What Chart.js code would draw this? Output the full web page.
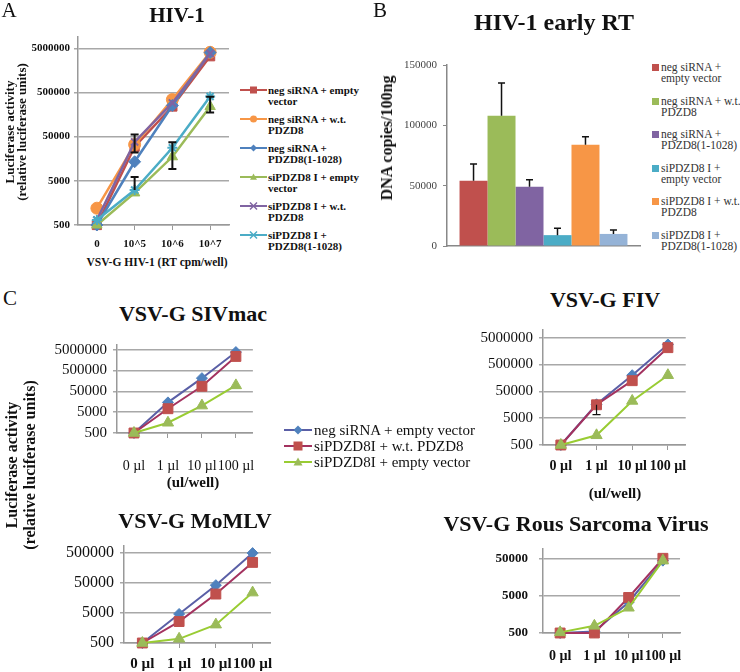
<!DOCTYPE html>
<html>
<head>
<meta charset="utf-8">
<script src="https://cdn.jsdelivr.net/npm/chart.js@4.4.0/dist/chart.umd.min.js"></script>
<style>
body { margin: 0; background: #fff; }
#fig { position: relative; width: 740px; height: 672px; overflow: hidden; font-family: "Liberation Serif", "Times New Roman", Times, "DejaVu Serif", serif; color: #111; }
#fig canvas { position: absolute; }
.t { position: absolute; white-space: nowrap; line-height: 1; transform: translate(-50%, -50%); }
.b { font-weight: bold; }
.rot { position: absolute; white-space: nowrap; text-align: center; font-weight: bold; transform: translate(-50%, -50%) rotate(-90deg); }
.leg { position: absolute; }
.leg .it { position: absolute; left: 0; white-space: nowrap; }
</style>
</head>
<body>
<div id="fig">
  <canvas id="cA" width="235" height="255" style="left:0;top:0;width:235px;height:255px"></canvas>
  <canvas id="cB" width="270" height="260" style="left:380px;top:0;width:270px;height:260px"></canvas>
  <canvas id="cSIV" width="245" height="150" style="left:30px;top:330px;width:245px;height:150px"></canvas>
  <canvas id="cFIV" width="255" height="175" style="left:440px;top:315px;width:255px;height:175px"></canvas>
  <canvas id="cMLV" width="250" height="142" style="left:30px;top:530px;width:250px;height:142px"></canvas>
  <canvas id="cRSV" width="252" height="142" style="left:440px;top:530px;width:252px;height:142px"></canvas>

  <div class="t" style="left:9px;top:10px;font-size:21px">A</div>
  <div class="t" style="left:380px;top:10px;font-size:21px">B</div>
  <div class="t" style="left:10px;top:298px;font-size:21px">C</div>

  <div class="t b" style="left:177px;top:15px;font-size:21px">HIV-1</div>
  <div class="t b" style="left:554px;top:22px;font-size:24px">HIV-1 early RT</div>
  <div class="rot" style="left:16px;top:132px;font-size:13px;line-height:12px">Luciferase activity<br>(relative luciferase units)</div>
  <div class="t b" style="left:157px;top:263px;font-size:11.5px">VSV-G HIV-1 (RT cpm/well)</div>
  <div class="rot" style="left:387px;top:138px;font-size:16px;line-height:16px">DNA copies/100ng</div>

  <div class="t b" style="left:193px;top:314px;font-size:22px">VSV-G SIVmac</div>
  <div class="t b" style="left:605px;top:300px;font-size:22px">VSV-G FIV</div>
  <div class="t b" style="left:195px;top:521px;font-size:22px">VSV-G MoMLV</div>
  <div class="t b" style="left:576px;top:524px;font-size:22px">VSV-G Rous Sarcoma Virus</div>
  <div class="t b" style="left:193px;top:482px;font-size:15px">(ul/well)</div>
  <div class="t b" style="left:615px;top:493px;font-size:15px">(ul/well)</div>
  <div class="rot" style="left:21px;top:465px;font-size:16px;line-height:18px">Luciferase activity<br>(relative luciferase units)</div>

  <div id="legA" class="leg" style="left:240px;top:0"></div>
  <div id="legB" class="leg" style="left:652px;top:0"></div>
  <div id="legC" class="leg" style="left:284px;top:0"></div>
</div>
<script>
// ---- panel A: HIV-1 luciferase (log scale) ----
var hivDoses = ['0', '10^5', '10^6', '10^7'];
var hivNames = ['neg siRNA + empty\nvector', 'neg siRNA + w.t.\nPDZD8', 'neg siRNA +\nPDZD8(1-1028)',
                'siPDZD8 I + empty\nvector', 'siPDZD8 I + w.t.\nPDZD8', 'siPDZD8 I +\nPDZD8(1-1028)'];
var hivNegEmpty = [500, 29500, 240000, 3300000];
var hivNegWt = [1200, 33000, 345000, 4050000];
var hivNegTrunc = [500, 13500, 254000, 4000000];
var hivSiEmpty = [500, 2660, 17500, 240000];
var hivSiWt = [650, 38000, 290000, 3800000];
var hivSiTrunc = [650, 3100, 28000, 405000];
var hivSiWtErrHi = [0, 18000, 0, 0];
var hivSiWtErrLo = [0, 16000, 0, 0];
var hivSiEmptyErrHi = [0, 0, 19700, 160000];
var hivSiEmptyErrLo = [0, 0, 8300, 65000];
var hivSiTruncErrHi = [0, 3000, 0, 0];
var hivTicks = [500, 5000, 50000, 500000, 5000000];

// ---- panel B: early RT bars ----
var rtNames = ['neg siRNA +\nempty vector', 'neg siRNA + w.t.\nPDZD8', 'neg siRNA +\nPDZD8(1-1028)',
               'siPDZD8 I +\nempty vector', 'siPDZD8 I + w.t.\nPDZD8', 'siPDZD8 I +\nPDZD8(1-1028)'];
var rtValues = [54000, 108000, 49000, 9000, 84000, 10000];
var rtErr = [14000, 27000, 6000, 5800, 6500, 3300];

// ---- panel C: other viruses ----
var volLabels = ['0 µl', '1 µl', '10 µl', '100 µl'];
var cNames = ['neg siRNA + empty vector', 'siPDZD8I + w.t. PDZD8', 'siPDZD8I + empty vector'];
var sivNeg = [500, 14700, 213000, 3800000];
var sivSiWt = [500, 7300, 87000, 2350000];
var sivSiEmpty = [500, 1550, 10300, 96000];
var fivNeg = [500, 16500, 200000, 2800000];
var fivSiWt = [500, 15800, 125000, 2130000];
var fivSiEmpty = [500, 1150, 22000, 200000];
var fivSiWtErrLo = [0, 9000, 0, 0];
var mlvNeg = [500, 4650, 42500, 500000];
var mlvSiWt = [500, 2600, 21500, 245000];
var mlvSiEmpty = [500, 690, 2050, 24000];
var rsvNeg = [500, 550, 3400, 45000];
var rsvSiWt = [500, 500, 4550, 52000];
var rsvSiEmpty = [520, 780, 2400, 45000];
var bigTicks = [500, 5000, 50000, 500000, 5000000];
var mlvTicks = [500, 5000, 50000, 500000];
var rsvTicks = [500, 5000, 50000];

Chart.defaults.font.family = '"Liberation Serif", "Times New Roman", Times, "DejaVu Serif", serif';
Chart.defaults.color = '#111';

// black error bars, drawn from errHi / errLo arrays on the dataset
var errorBars = {
    id: 'errorBars',
    afterDatasetsDraw: function (chart) {
        var ctx = chart.ctx;
        var yScale = chart.scales.y;
        chart.data.datasets.forEach(function (ds, di) {
            if (!ds.errHi && !ds.errLo) return;
            var meta = chart.getDatasetMeta(di);
            meta.data.forEach(function (el, i) {
                var v = ds.data[i];
                var hi = ds.errHi ? ds.errHi[i] : 0;
                var lo = ds.errLo ? ds.errLo[i] : 0;
                if (!hi && !lo) return;
                var cap = ds.errCap || 4;
                var top = hi ? yScale.getPixelForValue(v + hi) : el.y;
                var bot = lo ? yScale.getPixelForValue(v - lo) : el.y;
                ctx.save();
                ctx.strokeStyle = '#111';
                ctx.lineWidth = ds.errWidth || 2;
                ctx.beginPath();
                ctx.moveTo(el.x, top); ctx.lineTo(el.x, bot);
                if (hi) { ctx.moveTo(el.x - cap, top); ctx.lineTo(el.x + cap, top); }
                if (lo) { ctx.moveTo(el.x - cap, bot); ctx.lineTo(el.x + cap, bot); }
                ctx.stroke();
                ctx.restore();
            });
        });
    }
};

function series(name, data, line, fill, style, radius, width, idx) {
    var open = (style === 'crossRot' || style === 'star');
    return {
        label: name.replace('\n', ' '), data: data,
        borderColor: line, backgroundColor: fill, borderWidth: width,
        pointStyle: style, pointRadius: radius,
        pointBackgroundColor: fill, pointBorderColor: open ? line : fill,
        pointBorderWidth: open ? 2 : 1,
        tension: 0, clip: false, order: -idx
    };
}

function logLine(id, o) {
    return new Chart(document.getElementById(id), {
        type: 'line',
        data: { labels: o.labels, datasets: o.datasets },
        options: {
            responsive: false, animation: false, devicePixelRatio: 1,
            layout: { autoPadding: false, padding: { top: o.top, right: o.right, left: 0, bottom: 0 } },
            plugins: { legend: { display: false }, tooltip: { enabled: false } },
            scales: {
                x: {
                    offset: true,
                    grid: { drawOnChartArea: false, tickLength: 5, color: '#999' },
                    border: { color: '#999', width: 1.5 },
                    ticks: { font: o.xFont, color: '#111', padding: o.xPad, maxRotation: 0, autoSkip: false },
                    afterFit: function (s) { s.height = o.xH; }
                },
                y: {
                    type: 'logarithmic', min: 500, max: o.max,
                    afterBuildTicks: function (s) {
                        s.ticks = o.ticks.map(function (v) { return { value: v }; });
                    },
                    grid: { color: '#a8a8a8', lineWidth: 1.5, tickLength: 4 },
                    border: { color: '#999', width: 1.5 },
                    ticks: { font: o.yFont, color: '#111', padding: o.yPad, callback: function (v) { return String(v); } },
                    afterFit: function (s) { s.width = o.yW; }
                }
            }
        },
        plugins: [errorBars]
    });
}

// ---- A ----
var hivColors = ['#C0504D', '#F79646', '#4F81BD', '#9BBB59', '#8064A2', '#4BACC6'];
var hivStyles = ['rect', 'circle', 'rectRot', 'triangle', 'crossRot', 'star'];
var hivRadius = [6.5, 6, 6, 6, 5, 5];
var hivData = [hivNegEmpty, hivNegWt, hivNegTrunc, hivSiEmpty, hivSiWt, hivSiTrunc];
var hivSets = hivData.map(function (d, i) {
    return series(hivNames[i], d, hivColors[i], hivColors[i], hivStyles[i], hivRadius[i], 2.5, i);
});
hivSets[3].errHi = hivSiEmptyErrHi; hivSets[3].errLo = hivSiEmptyErrLo;
hivSets[4].errHi = hivSiWtErrHi; hivSets[4].errLo = hivSiWtErrLo;
hivSets[5].errHi = hivSiTruncErrHi;

logLine('cA', {
    labels: hivDoses, datasets: hivSets, max: 9e6, ticks: hivTicks,
    top: 37, right: 6, yW: 78, xH: 30, xPad: 8, yPad: 4,
    xFont: { size: 11, weight: 'bold' }, yFont: { size: 11, weight: 'bold' }
});

// ---- B ----
var rtColors = ['#C0504D', '#9BBB59', '#8064A2', '#4BACC6', '#F79646', '#95B3D7'];
new Chart(document.getElementById('cB'), {
    type: 'bar',
    data: {
        labels: [''],
        datasets: rtValues.map(function (v, i) {
            return {
                label: rtNames[i].replace('\n', ' '), data: [v], errHi: [rtErr[i]],
                errCap: 3.5, errWidth: 1.5,
                backgroundColor: rtColors[i], categoryPercentage: 0.87, barPercentage: 1
            };
        })
    },
    options: {
        responsive: false, animation: false, devicePixelRatio: 1,
        layout: { autoPadding: false, padding: { top: 65, right: 10, left: 0, bottom: 0 } },
        plugins: { legend: { display: false }, tooltip: { enabled: false } },
        scales: {
            x: {
                grid: { display: false }, ticks: { display: false },
                border: { color: '#888', width: 1.5 },
                afterFit: function (s) { s.height = 14; }
            },
            y: {
                min: 0, max: 150000,
                grid: { drawOnChartArea: false, tickLength: 4, color: '#888' },
                border: { color: '#888', width: 1.5 },
                ticks: { stepSize: 50000, font: { size: 11 }, color: '#444', padding: 6,
                         callback: function (v) { return String(v); } },
                afterFit: function (s) { s.width = 67; }
            }
        }
    },
    plugins: [errorBars]
});

// ---- C ----
var cLine = ['#5A5FA6', '#A3325F', '#99CC33'];
var cFill = ['#4F81BD', '#C0504D', '#9BBB59'];
var cStyles = ['rectRot', 'rect', 'triangle'];
var cRadius = [5.5, 7, 6.5];
function cSets(list) {
    return list.map(function (d, i) {
        return series(cNames[i], d, cLine[i], cFill[i], cStyles[i], cRadius[i], 2, i);
    });
}

logLine('cSIV', {
    labels: volLabels, datasets: cSets([sivNeg, sivSiWt, sivSiEmpty]), max: 8.3e6, ticks: bigTicks,
    top: 8, right: 7, yW: 87, xH: 47, xPad: 20, yPad: 6,
    xFont: { size: 14 }, yFont: { size: 15 }
});

var fivSets = cSets([fivNeg, fivSiWt, fivSiEmpty]);
fivSets[1].errLo = fivSiWtErrLo; fivSets[1].errWidth = 1.2;
logLine('cFIV', {
    labels: volLabels, datasets: fivSets, max: 9.7e6, ticks: bigTicks,
    top: 10, right: 7, yW: 103, xH: 45, xPad: 8, yPad: 6,
    xFont: { size: 14, weight: 'bold' }, yFont: { size: 15 }
});

logLine('cMLV', {
    labels: volLabels, datasets: cSets([mlvNeg, mlvSiWt, mlvSiEmpty]), max: 8.9e5, ticks: mlvTicks,
    top: 10, right: 7, yW: 94, xH: 29, xPad: 7, yPad: 6,
    xFont: { size: 15, weight: 'bold' }, yFont: { size: 16 }
});

logLine('cRSV', {
    labels: volLabels, datasets: cSets([rsvNeg, rsvSiWt, rsvSiEmpty]), max: 9.4e4, ticks: rsvTicks,
    top: 12, right: 7, yW: 103, xH: 39, xPad: 10, yPad: 11,
    xFont: { size: 14, weight: 'bold' }, yFont: { size: 13, weight: 'bold' }
});

// ---- html legends ----
function marker(style, line, fill, w, r) {
    var cx = w / 2, cy = 7, s = '';
    if (style === 'rect') {
        s = '<rect x="' + (cx - r) + '" y="' + (cy - r) + '" width="' + 2 * r + '" height="' + 2 * r + '" fill="' + fill + '"/>';
    } else if (style === 'circle') {
        s = '<circle cx="' + cx + '" cy="' + cy + '" r="' + r + '" fill="' + fill + '"/>';
    } else if (style === 'rectRot') {
        s = '<polygon points="' + cx + ',' + (cy - r) + ' ' + (cx + r) + ',' + cy + ' ' + cx + ',' + (cy + r) + ' ' + (cx - r) + ',' + cy + '" fill="' + fill + '"/>';
    } else if (style === 'triangle') {
        s = '<polygon points="' + cx + ',' + (cy - r) + ' ' + (cx + r) + ',' + (cy + r * 0.8) + ' ' + (cx - r) + ',' + (cy + r * 0.8) + '" fill="' + fill + '"/>';
    } else if (style === 'crossRot') {
        s = '<path d="M' + (cx - r) + ' ' + (cy - r) + 'L' + (cx + r) + ' ' + (cy + r) + 'M' + (cx + r) + ' ' + (cy - r) + 'L' + (cx - r) + ' ' + (cy + r) + '" stroke="' + line + '" stroke-width="1.5"/>';
    } else if (style === 'star') {
        s = '<path d="M' + (cx - r) + ' ' + (cy - r) + 'L' + (cx + r) + ' ' + (cy + r) + 'M' + (cx + r) + ' ' + (cy - r) + 'L' + (cx - r) + ' ' + (cy + r) + 'M' + (cx - r) + ' ' + cy + 'L' + (cx + r) + ' ' + cy + '" stroke="' + line + '" stroke-width="1.5"/>';
    }
    return '<svg width="' + w + '" height="14"><line x1="0" y1="7" x2="' + w + '" y2="7" stroke="' + line + '" stroke-width="2"/>' + s + '</svg>';
}

var legA = document.getElementById('legA');
hivNames.forEach(function (n, i) {
    var y = 90 + i * 29;
    legA.innerHTML += '<div style="position:absolute;left:0;top:' + (y - 7) + 'px">' + marker(hivStyles[i], hivColors[i], hivColors[i], 27, 3.5) + '</div>' +
        '<div class="it" style="left:28px;top:' + (y - 5.5) + 'px;font-size:11px;line-height:11px;font-weight:bold">' + n.replace('\n', '<br>') + '</div>';
});

var legB = document.getElementById('legB');
rtNames.forEach(function (n, i) {
    var y = 68 + i * 33.6;
    legB.innerHTML += '<div style="position:absolute;left:0;top:' + (y - 4) + 'px;width:7px;height:7px;background:' + rtColors[i] + '"></div>' +
        '<div class="it" style="left:9px;top:' + (y - 6) + 'px;font-size:11.5px;line-height:11px;color:#333">' + n.replace('\n', '<br>') + '</div>';
});

var legC = document.getElementById('legC');
cNames.forEach(function (n, i) {
    var y = 430 + i * 16;
    legC.innerHTML += '<div style="position:absolute;left:0;top:' + (y - 7) + 'px">' + marker(cStyles[i], cLine[i], cFill[i], 28, 4.5) + '</div>' +
        '<div class="it" style="left:30px;top:' + (y - 8) + 'px;font-size:15px;line-height:16px">' + n + '</div>';
});
</script>
</body>
</html>
